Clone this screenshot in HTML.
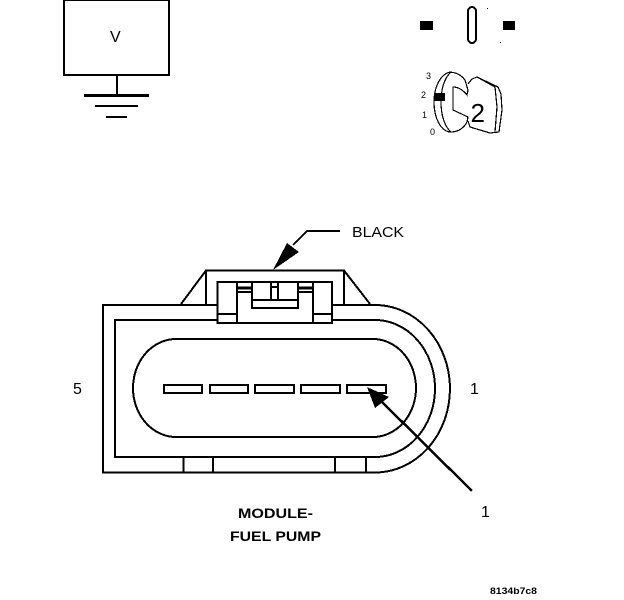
<!DOCTYPE html>
<html>
<head>
<meta charset="utf-8">
<style>
html,body{margin:0;padding:0;background:#fff;width:624px;height:600px;overflow:hidden}
svg{display:block}
text{font-family:"Liberation Sans",sans-serif;fill:#000}
</style>
</head>
<body>
<svg width="624" height="600" viewBox="0 0 624 600" xmlns="http://www.w3.org/2000/svg">
<g fill="none" stroke="#000" stroke-width="2" shape-rendering="crispEdges">
  <!-- V box and ground -->
  <rect x="64" y="0" width="105" height="75"/>
  <line x1="117" y1="75" x2="117" y2="95"/>
  <line x1="84" y1="95.5" x2="149" y2="95.5" stroke-width="3"/>
  <line x1="95" y1="106" x2="138" y2="106"/>
  <line x1="106" y1="117" x2="127" y2="117"/>
  <!-- switch symbols -->
  <rect x="468" y="7" width="8" height="36" rx="4" ry="4"/>
  <!-- key -->
  <g stroke-width="1.200">
    <path d="M465 80 C460 73 451 71 447 73 C438 78 434 90 434 102 C434 118 441 132 451 132 C458 132 464 128 467 122 L468 117 L453 110 L453 87 C458 87 463 90 467 95 L468 90 Z"/>
    <path d="M451 72 C444 78 441 90 441 102 C441 116 445 127 451 132"/>
    <path d="M468 84 L472 79 L477 77 L498 87 L501 94 L502 110 L499 132 L490 133 L470 127 L468 121"/>
    <path d="M477 77 L495 87 L497 107 L495 132"/>
  </g>
  <!-- connector outer shell -->
  <path d="M217 305 H103 V472.500 H375 A75 83.750 0 0 0 375 305 H332"/>
  <path d="M217 320 H115 V457 H375 A60 68.500 0 0 0 375 320 H332"/>
  <path d="M176 339 H373 A43 49 0 0 1 373 437 H176 A43 49 0 0 1 176 339 Z"/>
  <!-- pins -->
  <rect x="164" y="385" width="38" height="8"/>
  <rect x="210" y="385" width="38" height="8"/>
  <rect x="255" y="385" width="39" height="8"/>
  <rect x="301" y="385" width="39" height="8"/>
  <rect x="347" y="385" width="39" height="8"/>
  <!-- bottom tabs -->
  <line x1="183.500" y1="457" x2="183.500" y2="473"/>
  <line x1="213" y1="457" x2="213" y2="473"/>
  <line x1="335" y1="457" x2="335" y2="473"/>
  <line x1="366" y1="457" x2="366" y2="473"/>
  <!-- hood -->
  <path d="M206 305 V270.500 H344 V305"/>
  <line x1="206" y1="270.500" x2="181" y2="304"/>
  <line x1="344" y1="270.500" x2="370" y2="304"/>
  <!-- latch -->
  <rect x="217.500" y="282" width="114.500" height="41" fill="#fff"/>
  <line x1="237" y1="282" x2="237" y2="323"/>
  <line x1="313" y1="282" x2="313" y2="323"/>
  <line x1="217" y1="314" x2="237" y2="314"/>
  <line x1="313" y1="314" x2="332" y2="314"/>
  <path d="M252 282 V308 H298 V282"/>
  <line x1="252" y1="300" x2="298" y2="300"/>
  <line x1="237" y1="288" x2="252" y2="288" stroke-width="3"/>
  <line x1="237" y1="292" x2="252" y2="292"/>
  <line x1="298" y1="288" x2="313" y2="288" stroke-width="3"/>
  <line x1="298" y1="292" x2="313" y2="292"/>
  <path d="M271 282 V300 M278 282 V300"/>
  <line x1="271" y1="287" x2="278" y2="287"/>
  <!-- leader arrows -->
  <path d="M340 231 H307 L293 245"/>
  <line x1="472" y1="491" x2="380" y2="400" stroke-width="2.500"/>
</g>
<g fill="#000" stroke="none" shape-rendering="crispEdges">
  <rect x="420" y="21" width="13" height="9"/>
  <rect x="503" y="21" width="12" height="9"/>
  <rect x="487" y="8" width="1" height="1"/>
  <rect x="500" y="42" width="1" height="1"/>
  <rect x="434" y="93" width="11" height="8"/>
  <polygon points="273,270 287,243 299,252"/>
  <polygon points="367,387 375,408 389,397"/>
</g>
<text x="110" y="42" font-size="16">V</text>
<text x="470.500" y="122" font-size="26">2</text>
<g font-size="9">
  <text x="426" y="79">3</text>
  <text x="421" y="98">2</text>
  <text x="422" y="118">1</text>
  <text x="430" y="135">0</text>
</g>
<text x="352" y="237" font-size="15" textLength="52" lengthAdjust="spacingAndGlyphs">BLACK</text>
<text x="73" y="394" font-size="16">5</text>
<text x="470" y="394" font-size="16">1</text>
<text x="481" y="517" font-size="16">1</text>
<text x="238" y="518" font-size="14" font-weight="bold" textLength="75" lengthAdjust="spacingAndGlyphs">MODULE-</text>
<text x="230" y="541" font-size="14" font-weight="bold" textLength="91" lengthAdjust="spacingAndGlyphs">FUEL PUMP</text>
<text x="490" y="594" font-size="9" font-weight="bold" textLength="47" lengthAdjust="spacingAndGlyphs">8134b7c8</text>
</svg>
</body>
</html>
